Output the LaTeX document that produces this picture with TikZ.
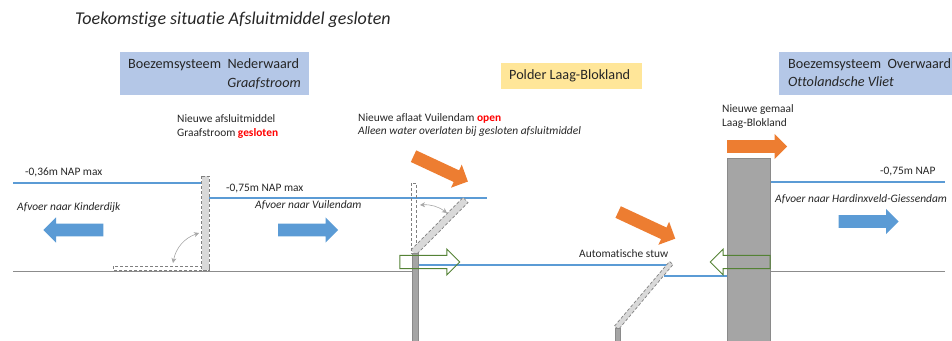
\documentclass[tikz,border=0pt]{standalone}
\usepackage{fontspec}
\setmainfont[Ligatures=NoCommon]{Carlito}
\usetikzlibrary{shapes.arrows,arrows.meta}
\definecolor{bluebox}{HTML}{B4C7E7}
\definecolor{yellowbox}{HTML}{FFE699}
\definecolor{waterline}{HTML}{5B9BD5}
\definecolor{arrowblue}{HTML}{5B9BD5}
\definecolor{arroworange}{HTML}{ED7D31}
\definecolor{arrowgreen}{HTML}{548235}
\definecolor{groundgray}{HTML}{8C8C8C}
\definecolor{wallgray}{HTML}{A5A5A5}
\definecolor{wallborder}{HTML}{8A8A8A}
\definecolor{gatefill}{HTML}{D9D9D9}
\definecolor{gatedash}{HTML}{7F7F7F}
\definecolor{txt}{HTML}{262626}
\tikzset{
  lbl/.style={inner sep=0pt,anchor=west,text=txt,align=left,font=\fontsize{11.4}{13.6}\selectfont},
  boxtext/.style={lbl,font=\fontsize{14.2}{17}\selectfont},
  infobox/.style={inner sep=0pt,anchor=north west},
  block/.style={single arrow,inner xsep=0pt,inner ysep=6.2pt,minimum height=60pt,minimum width=25pt,single arrow head extend=6.3pt,single arrow tip angle=90,anchor=center},
  water/.style={draw=waterline,line width=1.2pt},
  ground/.style={draw=groundgray,line width=0.8pt},
  wall/.style={fill=wallgray,draw=wallborder,line width=0.8pt},
  gate/.style={fill=gatefill,draw=gatedash,line width=0.7pt,dash pattern=on 3pt off 2pt},
  ghost/.style={draw=gatedash,line width=0.7pt,dash pattern=on 3pt off 2pt},
  swing/.style={draw=gray!70,line width=0.6pt,{Stealth[length=5pt,width=5pt]}-{Stealth[length=5pt,width=5pt]}},
}
\begin{document}
\begin{tikzpicture}[x=1pt,y=-1pt]
\useasboundingbox (0,0) rectangle (952,340);
% title
\node[lbl,font=\fontsize{18}{21}\selectfont\itshape] (title) at (75,20) {Toekomstige situatie Afsluitmiddel gesloten};
% boxes
\node[infobox,fill=bluebox,minimum width=189pt,minimum height=43pt] (nw) at (120,52) {};
\node[boxtext] (nwa) at (128,65) {Boezemsysteem\ \ Nederwaard};
\node[boxtext,font=\fontsize{14.2}{17}\selectfont\itshape,anchor=east] (nwb) at (301,83) {Graafstroom};
\node[infobox,fill=yellowbox,minimum width=141pt,minimum height=26pt] (pl) at (501,63) {};
\node[boxtext] (plt) at (509,76) {Polder Laag-Blokland};
\node[infobox,fill=bluebox,minimum width=173pt,minimum height=43pt] (ow) at (779,52) {};
\node[boxtext] (owa) at (788,65) {Boezemsysteem\ \ Overwaard};
\node[boxtext,font=\fontsize{14.2}{17}\selectfont\itshape] (owb) at (788,82) {Ottolandsche Vliet};
% ground
\coordinate (g1) at (13,271.5); \coordinate (g2) at (412,271.5);
\coordinate (g3) at (770,271.5); \coordinate (g4) at (945,271.5);
\draw[ground] (g1) -- (g2);
\draw[ground] (g3) -- (g4);
% water
\coordinate (w1a) at (13,183); \coordinate (w1b) at (202,183);
\coordinate (w2a) at (209,198); \coordinate (w2b) at (487,198);
\coordinate (w3a) at (418,265); \coordinate (w3b) at (670,265);
\coordinate (w4a) at (664,276); \coordinate (w4b) at (727,276);
\coordinate (w5a) at (770,182); \coordinate (w5b) at (945,182);
\draw[water] (w1a) -- (w1b);
\draw[water] (w2a) -- (w2b);
\draw[water] (w3a) -- (w3b);
\draw[water] (w4a) -- (w4b);
\draw[water] (w5a) -- (w5b);
% Graafstroom gate
\draw[ghost] (113,266) rectangle (209,270);
\draw[gate] (201.5,176) rectangle (209,270);
\coordinate (s1a) at (199,233); \coordinate (s1b) at (173,263);
\draw[swing] (s1a) to[bend right=30] (s1b);
% Vuilendam
\draw[ghost] (411.5,183) rectangle (416,253);
\draw[gate] (411,250) -- (463,197.5) -- (468,202.5) -- (416,255) -- cycle;
\coordinate (s2a) at (420,205); \coordinate (s2b) at (447,213);
\draw[swing] (s2a) to[bend left=20] (s2b);
\draw[wall] (412.5,253) rectangle (418.5,341);
% Stuw
\draw[gate] (614.5,326) -- (669.5,261.5) -- (673,264.5) -- (618.5,329.5) -- cycle;
\draw[wall] (615.5,328) rectangle (620,341);
% pump block
\draw[wall] (727.5,158) rectangle (770,341);
% arrows
\node[block,fill=arrowblue,shape border rotate=180] (a1) at (76.5,230) {};
\node[block,fill=arrowblue] (a2) at (305,230) {};
\node[block,fill=arrowblue] (a3) at (865.5,221.5) {};
\node[block,fill=arroworange] (o1) at (754,146.5) {};
\node[block,fill=arroworange,rotate=-25] (o2) at (437.8,167.5) {};
\node[block,fill=arroworange,rotate=-25,minimum height=63pt] (o3) at (643.8,224) {};
\node[block,draw=arrowgreen,line width=0.9pt] (g5) at (426.5,262) {};
\node[block,draw=arrowgreen,line width=0.9pt,shape border rotate=180] (g6) at (743.5,262) {};
% labels
\node[lbl] (l1) at (25,172) {-0,36m NAP max};
\node[lbl] (l2) at (226,189) {-0,75m NAP max};
\node[lbl] (l3) at (880,172) {-0,75m NAP};
\node[lbl,font=\fontsize{11.4}{13.6}\selectfont\itshape] (l4) at (17,208) {Afvoer naar Kinderdijk};
\node[lbl,font=\fontsize{11.4}{13.6}\selectfont\itshape] (l5) at (255,205) {Afvoer naar Vuilendam};
\node[lbl,font=\fontsize{11.4}{13.6}\selectfont\itshape] (l6) at (775,199) {Afvoer naar Hardinxveld-Giessendam};
\node[lbl] (l7) at (177,126.5) {Nieuwe afsluitmiddel\\Graafstroom {\bfseries\color{red}gesloten}};
\node[lbl] (l8) at (358,125) {Nieuwe aflaat Vuilendam {\bfseries\color{red}open}\\{\itshape Alleen water overlaten bij gesloten afsluitmiddel}};
\node[lbl] (l9) at (722,116.5) {Nieuwe gemaal\\Laag-Blokland};
\node[lbl] (l10) at (579,254) {Automatische stuw};
\end{tikzpicture}
\end{document}
